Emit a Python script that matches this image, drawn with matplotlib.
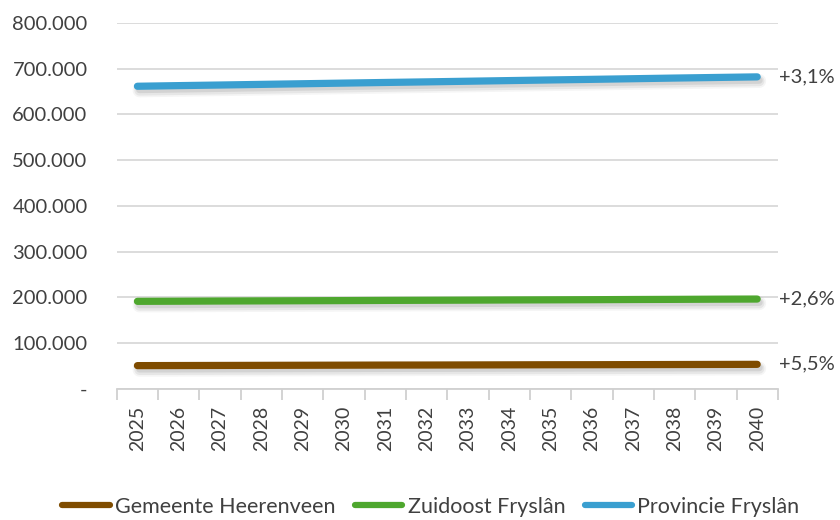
import matplotlib
matplotlib.use("Agg")
import matplotlib.pyplot as plt
import matplotlib.patheffects as pe
from matplotlib.ticker import FixedLocator, FuncFormatter

plt.rcParams['font.family'] = ['Lato', 'DejaVu Sans']

years = list(range(2025, 2041))
heerenveen = [51000, 51200, 51400, 51600, 51800, 52000, 52200, 52300,
              52500, 52700, 52900, 53000, 53200, 53400, 53600, 53800]
zuidoost = [191500, 191800, 192200, 192500, 192800, 193100, 193500, 193800,
            194100, 194500, 194800, 195100, 195500, 195800, 196200, 196500]
provincie = [661500, 662900, 664200, 665600, 667000, 668400, 669800, 671100,
             672500, 673900, 675300, 676600, 678000, 679400, 680700, 682000]
series_names = ["Gemeente Heerenveen", "Zuidoost Fryslân", "Provincie Fryslân"]
growth_labels = ["+5,5%", "+2,6%", "+3,1%"]
colors = ["#7f4c00", "#4ea72e", "#3a9fd0"]
text_color = "#404040"

fig = plt.figure(figsize=(8.4, 5.2), dpi=100)
ax = fig.add_axes([0.139, 0.252, 0.787, 0.704])

x = list(range(len(years)))
# soft shadow: a few wide, faint copies shifted down
shadow = [
    pe.SimpleLineShadow(offset=(1.5, -3), shadow_color="#000000", alpha=0.04, linewidth=10),
    pe.SimpleLineShadow(offset=(1.5, -3), shadow_color="#000000", alpha=0.06, linewidth=7.5),
    pe.SimpleLineShadow(offset=(1.5, -2.5), shadow_color="#000000", alpha=0.08, linewidth=5),
    pe.Normal(),
]
for vals, name, col, lab in zip([heerenveen, zuidoost, provincie], series_names, colors, growth_labels):
    ax.plot(x, vals, color=col, lw=5.2, solid_capstyle="round", label=name,
            path_effects=shadow, zorder=3)
    ax.annotate(lab, xy=(x[-1], vals[-1]), xytext=(16, 0), textcoords="offset points",
                va="center", ha="left", fontsize=14.5, color=text_color,
                annotation_clip=False)

ax.set_xlim(-0.5, len(years) - 0.5)
ax.set_ylim(0, 800000)
ax.yaxis.set_major_locator(FixedLocator(range(0, 800001, 100000)))
ax.yaxis.set_major_formatter(FuncFormatter(
    lambda v, p: "-" if v == 0 else f"{int(v):,}".replace(",", ".")))
ax.grid(axis="y", color="#d9d9d9", lw=1.3, zorder=0)

ax.set_xticks(x)
ax.set_xticklabels([str(y) for y in years], rotation=90)
ax.set_xticks([i - 0.5 for i in range(len(years) + 1)], minor=True)
ax.tick_params(axis="x", which="major", length=0, pad=12, labelsize=14, labelcolor=text_color)
ax.tick_params(axis="x", which="minor", length=8, width=1.3, color="#d0d0d0")
ax.tick_params(axis="y", length=0, pad=21, labelsize=14.5, labelcolor=text_color)

for s in ["top", "right", "left"]:
    ax.spines[s].set_visible(False)
ax.spines["bottom"].set_color("#d0d0d0")
ax.spines["bottom"].set_linewidth(1.3)

leg = fig.legend(*ax.get_legend_handles_labels(), loc="center", bbox_to_anchor=(0.513, 0.025),
                 ncol=3, frameon=False, fontsize=15.5, handlelength=2.2, handletextpad=0.25,
                 columnspacing=0.9, labelcolor=text_color)
for h in leg.get_lines():
    h.set_path_effects([pe.Normal()])
    h.set_linewidth(4.5)
    h.set_solid_capstyle("round")

fig.savefig("out.png", dpi=100)
